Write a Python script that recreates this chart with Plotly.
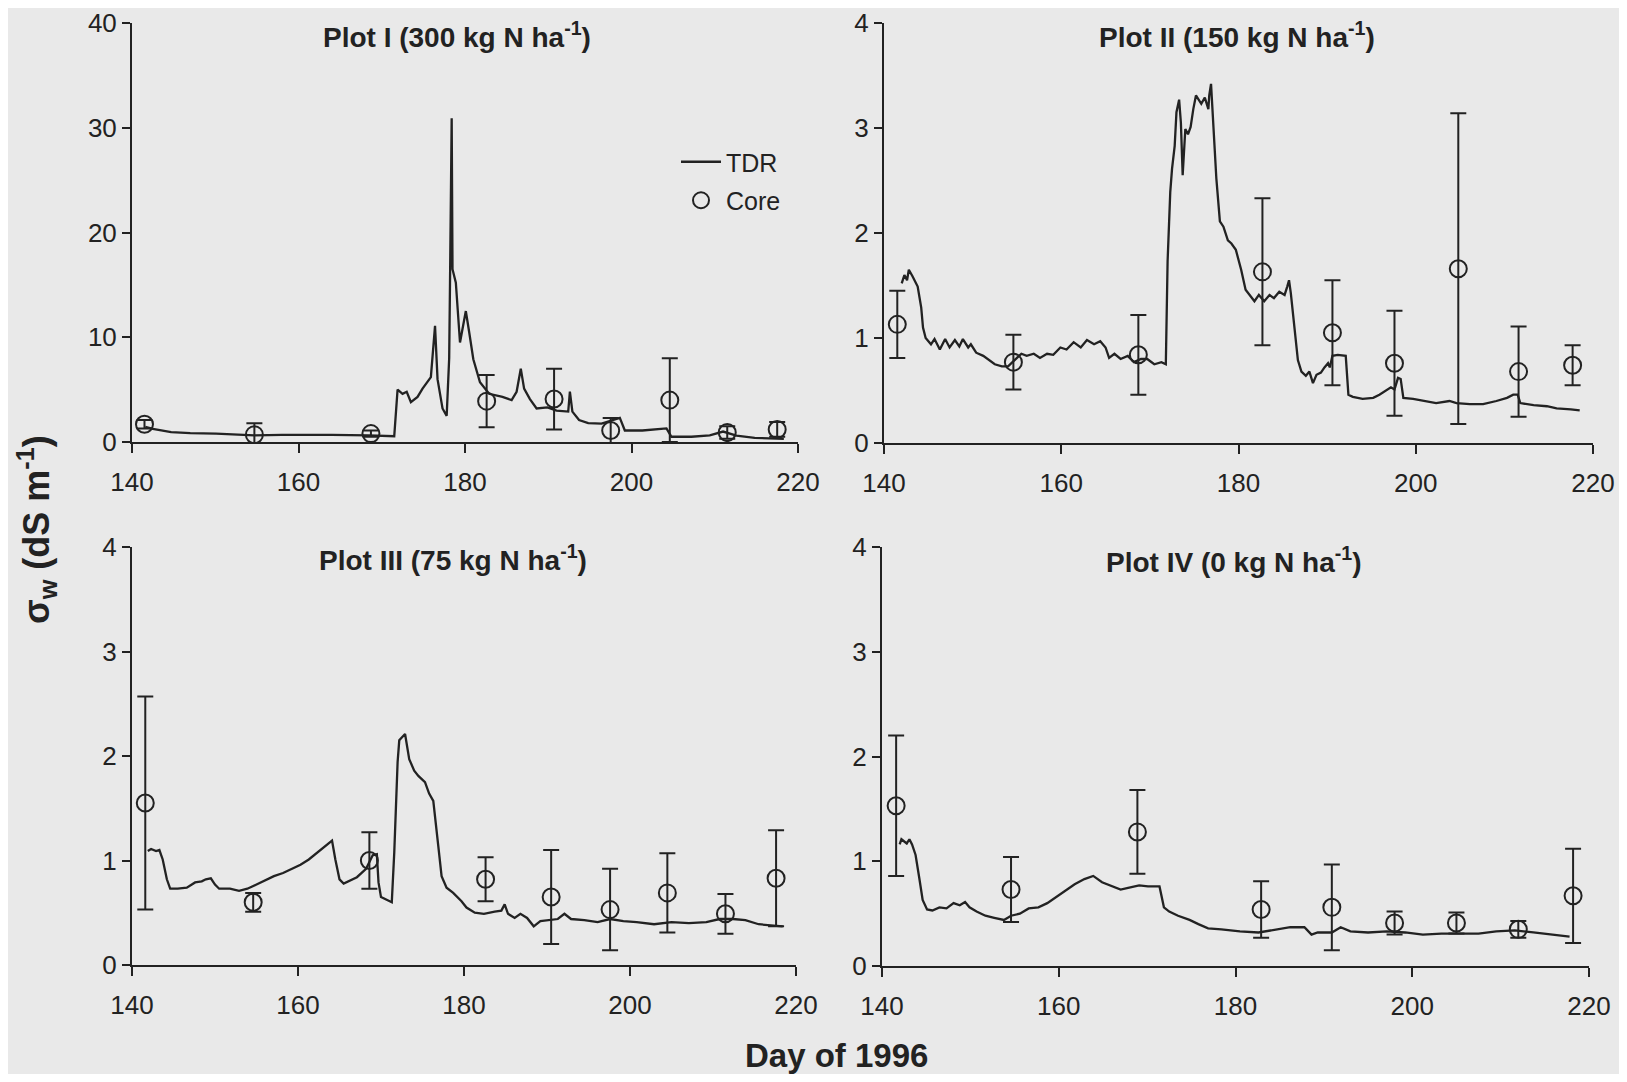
import plotly.graph_objects as go

# ---------------- data ----------------
days_ticks = [140, 160, 180, 200, 220]
titles = ["Plot I (300 kg N ha<sup>-1</sup>)", "Plot II (150 kg N ha<sup>-1</sup>)",
          "Plot III (75 kg N ha<sup>-1</sup>)", "Plot IV (0 kg N ha<sup>-1</sup>)"]

# TDR series (day, sigma_w)
tdr1 = [(141.6, 1.45), (142.5, 1.25), (144.7, 0.95), (147.0, 0.85), (150.1, 0.80), (152.0, 0.72),
        (154.7, 0.63), (158.0, 0.68), (160.9, 0.70), (164.0, 0.68), (168.4, 0.63), (171.5, 0.55),
        (171.9, 5.0), (172.5, 4.6), (173.0, 4.8), (173.5, 3.8), (174.3, 4.3), (174.9, 5.1),
        (175.9, 6.2), (176.4, 11.1), (176.7, 6.0), (177.3, 3.2), (177.8, 2.5), (178.1, 8.0),
        (178.2, 15.2), (178.4, 30.9), (178.5, 16.5), (178.9, 15.2), (179.4, 9.5), (180.1, 12.5),
        (180.5, 10.5), (181.0, 7.9), (181.8, 5.7), (182.9, 4.6), (184.5, 4.3), (185.6, 4.0),
        (186.2, 4.8), (186.7, 7.0), (187.1, 5.1), (187.8, 4.1), (188.6, 3.2), (189.9, 3.3),
        (191.0, 3.0), (192.4, 2.9), (192.6, 4.8), (192.9, 2.9), (193.7, 2.1), (194.8, 1.8),
        (196.4, 1.75), (198.0, 2.1), (198.6, 2.3), (199.2, 1.1), (201.3, 1.1), (204.2, 1.3),
        (204.8, 0.5), (207.2, 0.5), (209.4, 0.63), (211.0, 1.0), (212.6, 0.6), (214.8, 0.4),
        (218.3, 0.3)]

tdr2 = [(142.0, 1.52), (142.3, 1.60), (142.6, 1.55), (142.8, 1.65), (143.2, 1.59), (143.8, 1.49),
        (144.2, 1.29), (144.4, 1.10), (144.7, 1.00), (145.3, 0.94), (145.7, 0.99), (146.3, 0.89),
        (146.9, 0.99), (147.4, 0.91), (148.0, 0.98), (148.5, 0.92), (148.9, 0.99), (149.5, 0.91),
        (149.8, 0.94), (150.4, 0.86), (151.2, 0.83), (151.7, 0.80), (152.5, 0.75), (153.3, 0.73),
        (154.0, 0.73), (155.0, 0.81), (155.5, 0.85), (156.1, 0.83), (156.9, 0.85), (157.6, 0.81),
        (158.4, 0.85), (159.1, 0.84), (159.9, 0.91), (160.6, 0.89), (161.4, 0.96), (162.2, 0.91),
        (162.9, 0.98), (163.7, 0.94), (164.4, 0.97), (165.0, 0.91), (165.4, 0.81), (166.0, 0.85),
        (166.7, 0.80), (167.5, 0.83), (168.2, 0.77), (169.0, 0.80), (169.7, 0.80), (170.5, 0.75),
        (171.3, 0.77), (171.8, 0.75), (172.0, 1.73), (172.3, 2.39), (172.5, 2.61), (172.8, 2.83),
        (173.0, 3.15), (173.3, 3.27), (173.5, 3.05), (173.7, 2.55), (174.0, 2.99), (174.3, 2.94),
        (174.6, 3.01), (174.9, 3.18), (175.2, 3.31), (175.8, 3.23), (176.2, 3.29), (176.6, 3.18),
        (176.7, 3.31), (176.9, 3.42), (177.1, 3.15), (177.5, 2.52), (177.9, 2.11), (178.3, 2.06),
        (178.8, 1.93), (179.2, 1.90), (179.7, 1.84), (180.3, 1.65), (180.8, 1.46), (181.4, 1.39),
        (181.8, 1.35), (182.3, 1.41), (182.9, 1.35), (183.5, 1.41), (184.0, 1.38), (184.6, 1.44),
        (185.2, 1.41), (185.5, 1.49), (185.7, 1.55), (185.9, 1.43), (186.3, 1.11), (186.7, 0.79),
        (187.1, 0.68), (187.6, 0.64), (188.0, 0.68), (188.4, 0.57), (188.8, 0.65), (189.3, 0.67),
        (189.7, 0.72), (190.1, 0.76), (190.3, 0.72), (190.6, 0.83), (191.2, 0.84), (192.1, 0.83),
        (192.4, 0.46), (192.9, 0.44), (194.0, 0.42), (195.2, 0.43), (195.9, 0.46), (196.7, 0.50),
        (197.2, 0.53), (197.6, 0.51), (198.0, 0.62), (198.3, 0.61), (198.6, 0.43), (199.7, 0.42),
        (200.8, 0.40), (202.3, 0.38), (203.8, 0.40), (204.6, 0.38), (206.1, 0.37), (207.6, 0.37),
        (209.1, 0.40), (210.3, 0.43), (211.0, 0.46), (211.5, 0.46), (211.8, 0.38), (213.3, 0.36),
        (214.8, 0.35), (215.9, 0.33), (217.5, 0.32), (218.5, 0.31)]

tdr3 = [(141.9, 1.09), (142.3, 1.11), (142.9, 1.09), (143.3, 1.10), (143.7, 1.01), (144.2, 0.82),
        (144.6, 0.73), (145.5, 0.73), (146.6, 0.74), (147.6, 0.79), (148.4, 0.80), (148.9, 0.82),
        (149.5, 0.83), (150.0, 0.77), (150.5, 0.73), (151.8, 0.73), (152.9, 0.71), (153.9, 0.73),
        (155.0, 0.77), (156.1, 0.81), (157.1, 0.85), (158.2, 0.88), (159.2, 0.92), (160.3, 0.96),
        (161.3, 1.01), (162.4, 1.08), (163.4, 1.14), (164.1, 1.19), (164.5, 1.01), (165.0, 0.82),
        (165.5, 0.78), (166.3, 0.81), (167.1, 0.84), (168.2, 0.92), (169.0, 1.05), (169.5, 1.06),
        (169.7, 0.79), (170.0, 0.65), (170.8, 0.62), (171.3, 0.60), (171.6, 1.08), (172.0, 1.94),
        (172.2, 2.15), (172.6, 2.18), (172.9, 2.21), (173.4, 1.97), (174.0, 1.86), (174.5, 1.81),
        (175.3, 1.75), (175.8, 1.64), (176.3, 1.57), (176.9, 1.14), (177.3, 0.85), (177.9, 0.74),
        (178.7, 0.69), (179.7, 0.61), (180.3, 0.55), (181.3, 0.50), (182.4, 0.49), (183.7, 0.51),
        (184.5, 0.52), (184.9, 0.58), (185.3, 0.49), (186.1, 0.45), (186.8, 0.49), (187.6, 0.45),
        (188.4, 0.37), (189.2, 0.42), (190.3, 0.43), (191.3, 0.44), (192.1, 0.49), (192.9, 0.44),
        (194.5, 0.43), (196.1, 0.41), (197.6, 0.44), (199.2, 0.42), (200.8, 0.41), (202.9, 0.39),
        (205.0, 0.41), (207.1, 0.40), (209.2, 0.41), (210.8, 0.44), (212.4, 0.44), (213.9, 0.43),
        (215.5, 0.39), (217.1, 0.38), (218.4, 0.37)]

tdr4 = [(142.0, 1.16), (142.2, 1.21), (142.8, 1.17), (143.1, 1.21), (143.4, 1.16), (143.8, 1.06),
        (144.2, 0.85), (144.6, 0.63), (145.1, 0.54), (145.7, 0.53), (146.5, 0.56), (147.3, 0.55),
        (148.1, 0.60), (148.8, 0.58), (149.4, 0.61), (149.9, 0.56), (150.7, 0.52), (151.7, 0.48),
        (152.7, 0.46), (153.8, 0.44), (154.6, 0.48), (155.6, 0.50), (156.6, 0.55), (157.7, 0.56),
        (158.7, 0.60), (159.7, 0.66), (160.8, 0.72), (161.8, 0.78), (162.9, 0.83), (163.9, 0.86),
        (164.9, 0.80), (166.0, 0.76), (167.0, 0.73), (168.1, 0.75), (169.1, 0.77), (170.1, 0.76),
        (171.4, 0.76), (171.9, 0.56), (172.5, 0.52), (173.5, 0.48), (174.8, 0.44), (175.8, 0.40),
        (176.9, 0.36), (178.4, 0.35), (180.5, 0.33), (182.6, 0.32), (184.7, 0.35), (186.2, 0.37),
        (187.8, 0.37), (188.6, 0.30), (189.3, 0.32), (190.9, 0.32), (191.9, 0.37), (193.0, 0.33),
        (195.0, 0.32), (197.1, 0.33), (199.2, 0.32), (201.2, 0.30), (203.3, 0.31), (205.4, 0.31),
        (207.5, 0.31), (209.5, 0.33), (211.6, 0.34), (213.7, 0.32), (215.7, 0.30), (217.8, 0.28)]

# Core samples: day, value, +/- error
core1_day = [141.5, 154.7, 168.7, 182.6, 190.7, 197.5, 204.6, 211.5, 217.5]
core1_val = [1.7, 0.7, 0.8, 3.9, 4.1, 1.1, 4.0, 0.9, 1.2]
core1_err = [0.4, 1.1, 0.3, 2.5, 2.9, 1.2, 4.0, 0.6, 0.7]

core2_day = [141.5, 154.6, 168.7, 182.7, 190.6, 197.6, 204.8, 211.6, 217.7]
core2_val = [1.13, 0.77, 0.84, 1.63, 1.05, 0.76, 1.66, 0.68, 0.74]
core2_err = [0.32, 0.26, 0.38, 0.70, 0.50, 0.50, 1.48, 0.43, 0.19]

core3_day = [141.6, 154.6, 168.6, 182.6, 190.5, 197.6, 204.5, 211.5, 217.6]
core3_val = [1.55, 0.60, 1.00, 0.82, 0.65, 0.53, 0.69, 0.49, 0.83]
core3_err = [1.02, 0.09, 0.27, 0.21, 0.45, 0.39, 0.38, 0.19, 0.46]

core4_day = [141.6, 154.6, 168.9, 182.9, 190.9, 198.0, 205.0, 212.0, 218.2]
core4_val = [1.53, 0.73, 1.28, 0.54, 0.56, 0.41, 0.41, 0.35, 0.67]
core4_err = [0.67, 0.31, 0.40, 0.27, 0.41, 0.11, 0.10, 0.08, 0.45]

y_ranges = [[0, 40], [0, 4], [0, 4], [0, 4]]
y_dticks = [10, 1, 1, 1]

# ---------------- layout helpers ----------------
PAGE_OFF = 8                     # default body margin of the html page
W, H = 1627 - 2 * PAGE_OFF, 1082 - 2 * PAGE_OFF
INK = "#222222"
BG = "#e9e9e9"
FONT = "Liberation Sans"


def fx(px):
    return (px - PAGE_OFF) / W


def fy(py):
    return 1 - (py - PAGE_OFF) / H


# pixel boxes on the page: (x_left, x_right, y_top, y_bottom)
boxes = [(132, 798, 23, 442), (884, 1593, 23, 443), (132, 796, 547, 965), (882, 1589, 547, 966)]
title_pos = [(457, 35), (1237, 35), (453, 558), (1233, 560)]

tdrs = [tdr1, tdr2, tdr3, tdr4]
cores = [(core1_day, core1_val, core1_err), (core2_day, core2_val, core2_err),
         (core3_day, core3_val, core3_err), (core4_day, core4_val, core4_err)]

fig = go.Figure()
layout = {}
annotations = []
for i in range(4):
    n = "" if i == 0 else str(i + 1)
    xl, xr, yt, yb = boxes[i]
    layout["xaxis" + n] = dict(
        domain=[fx(xl), fx(xr)], anchor="y" + n, range=[140, 220], tickvals=days_ticks,
        showline=True, linecolor=INK, linewidth=2, ticks="outside", ticklen=9, tickwidth=2,
        tickcolor=INK, showgrid=False, zeroline=False, ticklabelstandoff=7, automargin=False,
        ticklabeloverflow="allow",
        tickfont=dict(family=FONT, size=26, color=INK), fixedrange=True)
    layout["yaxis" + n] = dict(
        domain=[fy(yb), fy(yt)], anchor="x" + n, range=y_ranges[i], dtick=y_dticks[i],
        tick0=0, showline=True, linecolor=INK, linewidth=2, ticks="outside", ticklen=8,
        tickwidth=2, tickcolor=INK, showgrid=False, zeroline=False, automargin=False,
        ticklabeloverflow="allow",
        tickfont=dict(family=FONT, size=26, color=INK), fixedrange=True)
    d = [p[0] for p in tdrs[i]]
    v = [p[1] for p in tdrs[i]]
    fig.add_trace(go.Scatter(x=d, y=v, mode="lines", name="TDR", line=dict(color=INK, width=2.3),
                             xaxis="x" + n, yaxis="y" + n, showlegend=(i == 0),
                             legendgroup="tdr", cliponaxis=False))
    cd, cv, ce = cores[i]
    fig.add_trace(go.Scatter(x=cd, y=cv, mode="markers", name="Core",
                             marker=dict(symbol="circle-open", size=17, color=INK,
                                         line=dict(width=2, color=INK)),
                             error_y=dict(type="data", array=ce, visible=True, color=INK,
                                          thickness=2, width=8),
                             xaxis="x" + n, yaxis="y" + n, showlegend=(i == 0),
                             legendgroup="core"))
    tx, ty = title_pos[i]
    annotations.append(dict(text="<b>" + titles[i] + "</b>", x=fx(tx), y=fy(ty),
                            xref="paper", yref="paper", showarrow=False,
                            font=dict(family=FONT, size=28, color=INK),
                            xanchor="center", yanchor="middle"))

annotations.append(dict(text="<b>σ<sub>w</sub> (dS m<sup>-1</sup>)</b>", x=fx(36), y=fy(530),
                        xref="paper", yref="paper", showarrow=False, textangle=-90,
                        font=dict(family=FONT, size=36, color=INK),
                        xanchor="center", yanchor="middle"))
annotations.append(dict(text="<b>Day of 1996</b>", x=fx(836), y=fy(1055),
                        xref="paper", yref="paper", showarrow=False,
                        font=dict(family=FONT, size=33, color=INK),
                        xanchor="center", yanchor="middle"))

fig.update_layout(
    width=W, height=H, margin=dict(l=0, r=0, t=0, b=0, pad=0, autoexpand=False),
    paper_bgcolor=BG, plot_bgcolor=BG,
    annotations=annotations,
    legend=dict(x=fx(676), y=fy(139), xanchor="left", yanchor="top",
                bgcolor="rgba(0,0,0,0)", font=dict(family=FONT, size=25, color=INK),
                tracegroupgap=3, itemwidth=40),
    **layout)

fig.write_html("out.html")
